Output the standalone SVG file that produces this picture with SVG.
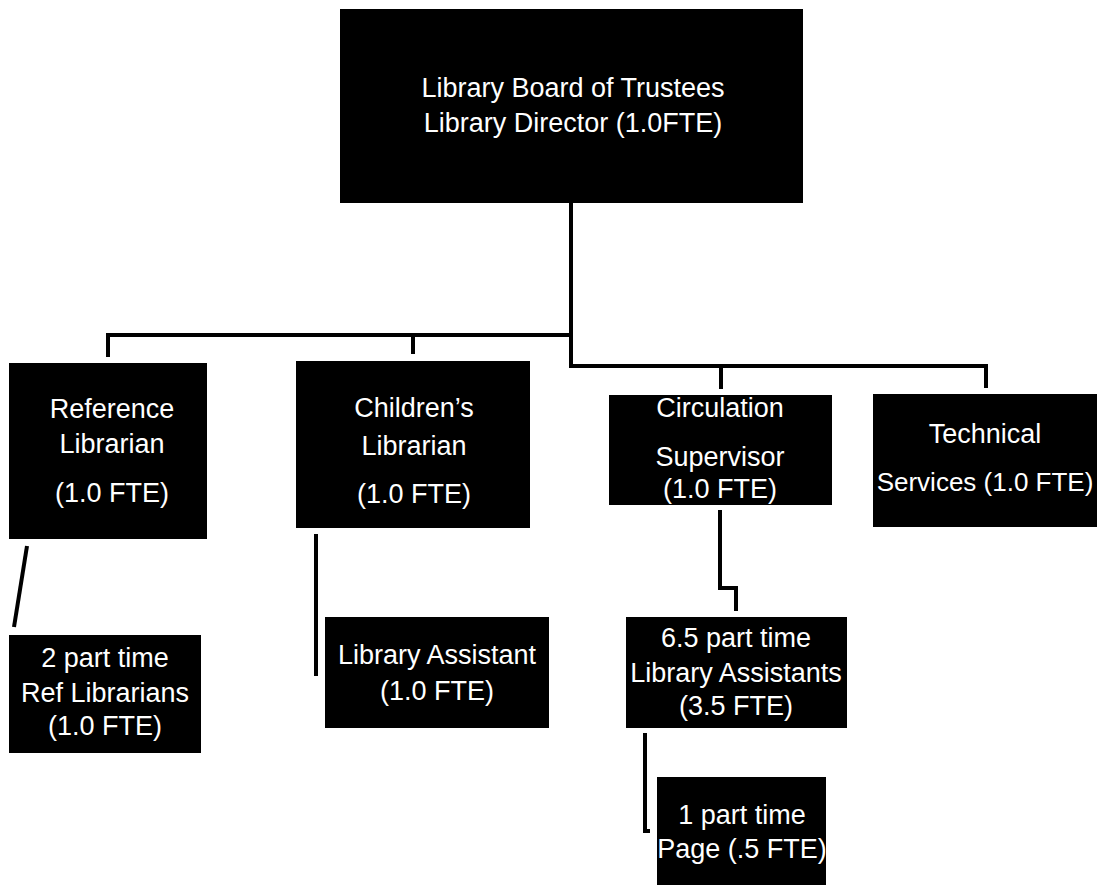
<svg xmlns="http://www.w3.org/2000/svg" width="1102" height="885" viewBox="0 0 1102 885">
<style>
.box{fill:#000;}
.t{fill:#fff;font-family:"Liberation Sans",Arial,sans-serif;font-size:27px;text-anchor:middle;}
.c{fill:none;stroke:#000;stroke-width:4;stroke-linejoin:miter;}
</style>
<rect width="1102" height="885" fill="#fff"/>
<g id="connectors">
<path class="c" d="M571 203 V366 H986 V388"/>
<path class="c" d="M571 335 H108 V357"/>
<path class="c" d="M413 335 V354"/>
<path class="c" d="M721 366 V389"/>
<path class="c" d="M27 546 L14 627"/>
<path class="c" d="M316 534 V676"/>
<path class="c" d="M720 510 V588 H736 V611"/>
<path class="c" d="M645 733 V831 H650"/>
</g>
<g id="n-board">
<rect class="box" x="340" y="9" width="463" height="194"/>
<text class="t" x="573" y="97">Library Board of Trustees</text>
<text class="t" x="573" y="132">Library Director (1.0FTE)</text>
</g>
<g id="n-reference">
<rect class="box" x="9" y="363" width="198" height="176"/>
<text class="t" x="112" y="418">Reference</text>
<text class="t" x="112" y="453">Librarian</text>
<text class="t" x="112" y="502">(1.0 FTE)</text>
</g>
<g id="n-children">
<rect class="box" x="296" y="361" width="234" height="167"/>
<text class="t" x="414" y="417">Children’s</text>
<text class="t" x="414" y="455">Librarian</text>
<text class="t" x="414" y="503">(1.0 FTE)</text>
</g>
<g id="n-circulation">
<rect class="box" x="609" y="395" width="223" height="110"/>
<text class="t" x="720" y="417">Circulation</text>
<text class="t" x="720" y="466">Supervisor</text>
<text class="t" x="720" y="498">(1.0 FTE)</text>
</g>
<g id="n-technical">
<rect class="box" x="873" y="394" width="224" height="133"/>
<text class="t" x="985" y="443">Technical</text>
<text class="t" x="985" y="491" style="font-size:26px">Services  (1.0 FTE)</text>
</g>
<g id="n-refparttime">
<rect class="box" x="9" y="635" width="192" height="118"/>
<text class="t" x="105" y="667">2 part time</text>
<text class="t" x="105" y="702">Ref Librarians</text>
<text class="t" x="105" y="735">(1.0  FTE)</text>
</g>
<g id="n-libassistant">
<rect class="box" x="325" y="617" width="224" height="111"/>
<text class="t" x="437" y="664">Library Assistant</text>
<text class="t" x="437" y="700">(1.0 FTE)</text>
</g>
<g id="n-assistants">
<rect class="box" x="626" y="617" width="221" height="111"/>
<text class="t" x="736" y="647">6.5 part time</text>
<text class="t" x="736" y="682">Library Assistants</text>
<text class="t" x="736" y="715">(3.5 FTE)</text>
</g>
<g id="n-page">
<rect class="box" x="657" y="777" width="169" height="108"/>
<text class="t" x="742" y="824">1 part time</text>
<text class="t" x="742" y="858">Page (.5 FTE)</text>
</g>
</svg>
